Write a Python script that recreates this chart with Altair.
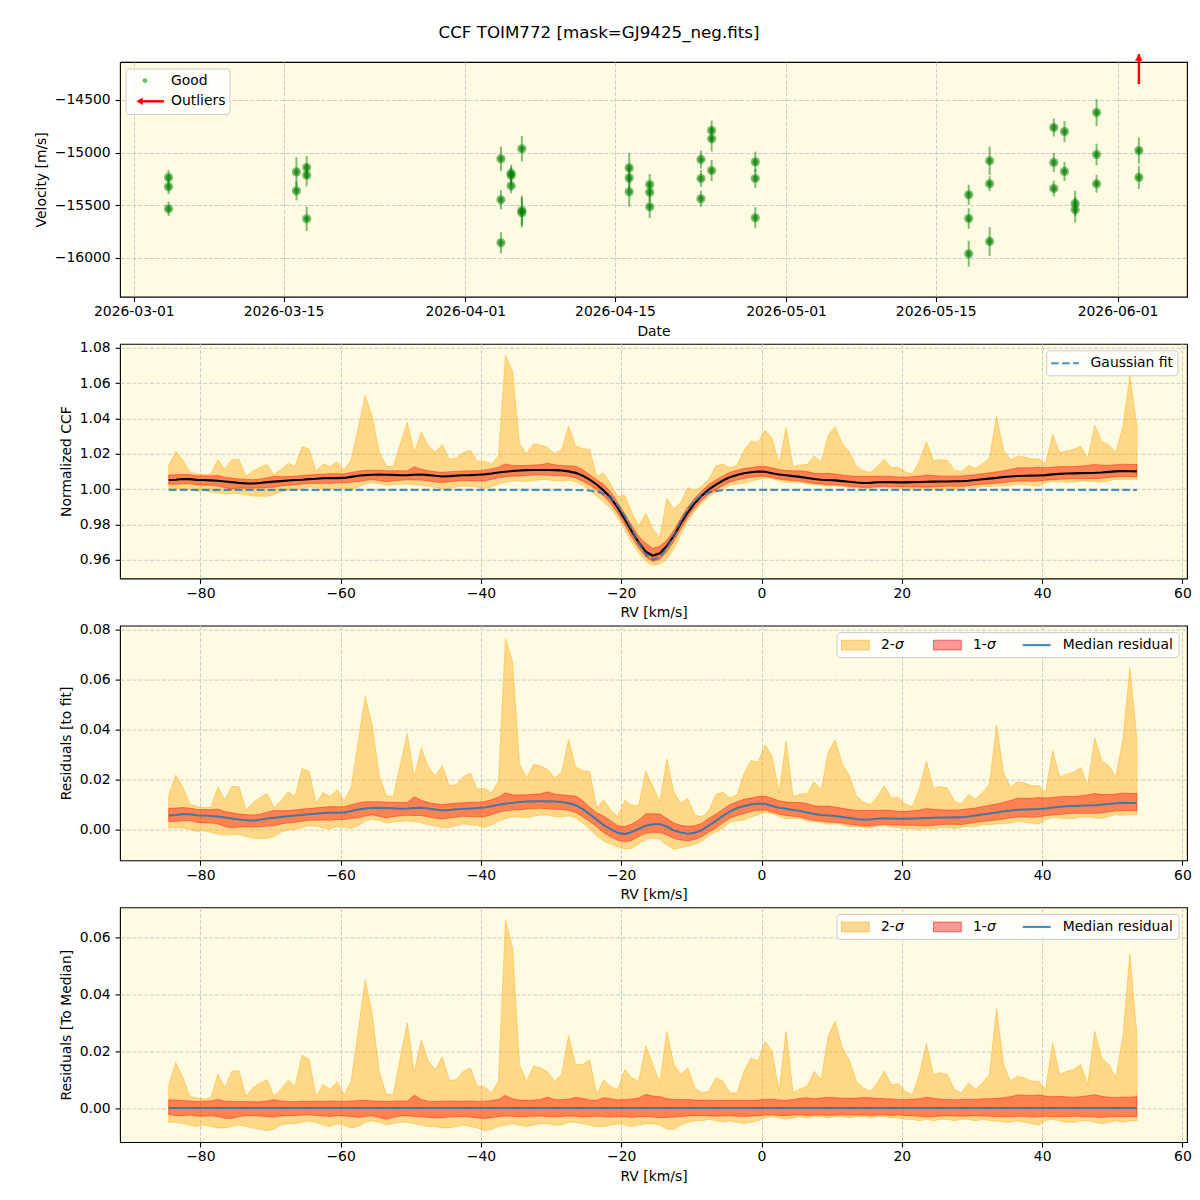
import altair as alt
import numpy as np
import pandas as pd

FONT = "DejaVu Sans"
FS = 13.9
BG = "#fefbe2"
GREEN = "#008000"
ORANGE = "#ffa500"
RED = "#ff0000"
BLUE = "#1f77b4"
W, H = 1067, 234.7

TITLE = "CCF TOIM772 [mask=GJ9425_neg.fits]"

# ---------------------------------------------------------------- RV time series
OBS_DATES = [
    "2026-03-04T06:00:00Z", "2026-03-04T06:00:00Z", "2026-03-04T06:00:00Z",
    "2026-03-16T05:00:00Z", "2026-03-16T05:00:00Z",
    "2026-03-17T04:00:00Z", "2026-03-17T04:00:00Z", "2026-03-17T04:00:00Z",
    "2026-04-04T08:00:00Z", "2026-04-04T08:00:00Z", "2026-04-04T08:00:00Z",
    "2026-04-05T07:00:00Z", "2026-04-05T07:00:00Z", "2026-04-05T07:00:00Z",
    "2026-04-06T07:00:00Z", "2026-04-06T07:00:00Z", "2026-04-06T07:00:00Z",
    "2026-04-16T08:00:00Z", "2026-04-16T08:00:00Z", "2026-04-16T08:00:00Z",
    "2026-04-18T06:00:00Z", "2026-04-18T06:00:00Z", "2026-04-18T06:00:00Z",
    "2026-04-23T01:00:00Z", "2026-04-23T01:00:00Z", "2026-04-23T01:00:00Z",
    "2026-04-24T01:00:00Z", "2026-04-24T01:00:00Z", "2026-04-24T01:00:00Z",
    "2026-04-28T03:00:00Z", "2026-04-28T03:00:00Z", "2026-04-28T03:00:00Z",
    "2026-05-18T02:00:00Z", "2026-05-18T02:00:00Z", "2026-05-18T02:00:00Z",
    "2026-05-20T01:00:00Z", "2026-05-20T01:00:00Z", "2026-05-20T01:00:00Z",
    "2026-05-26T01:00:00Z", "2026-05-26T01:00:00Z", "2026-05-26T01:00:00Z",
    "2026-05-27T01:00:00Z", "2026-05-27T01:00:00Z",
    "2026-05-28T01:00:00Z", "2026-05-28T01:00:00Z",
    "2026-05-30T01:00:00Z", "2026-05-30T01:00:00Z", "2026-05-30T01:00:00Z",
    "2026-06-03T00:00:00Z", "2026-06-03T00:00:00Z",
]
OBS_VEL = [
    -15237, -15326, -15535,
    -15184, -15364,
    -15142, -15215, -15630,
    -15060, -15449, -15858,
    -15196, -15218, -15316,
    -14965, -15551, -15573,
    -15146, -15241, -15373,
    -15304, -15377, -15516,
    -15066, -15247, -15440,
    -14791, -14870, -15171,
    -15089, -15247, -15620,
    -15402, -15627, -15962,
    -15079, -15297, -15845,
    -14763, -15095, -15342,
    -14801, -15180,
    -15484, -15544,
    -14620, -15019, -15297,
    -14981, -15237,
]
OBS_ERR = [
    70, 70, 70,
    140, 90,
    110, 105, 115,
    117, 92, 100,
    80, 80, 70,
    120, 140, 140,
    142, 100, 140,
    100, 90, 107,
    85, 80, 75,
    95, 120, 100,
    98, 92, 100,
    95, 98, 123,
    136, 70, 136,
    85, 90, 75,
    100, 90,
    120, 120,
    127, 103, 85,
    123, 110,
]
# outlier beyond the top of the velocity range, marked with an arrow
OUT_DATES = ["2026-06-03T00:00:00Z"]
OUT_BASE = [-14349]
OUT_TIP = [-14064]

# ---------------------------------------------------------------- CCF statistics
RV = np.arange(-84.5, 54.0, 1.0)  # km/s

GAUSS_FIT = [
    0.9995, 0.9995, 0.9995, 0.9995, 0.9995, 0.9995, 0.9995, 0.9995, 0.9995, 0.9995,
    0.9995, 0.9995, 0.9995, 0.9995, 0.9995, 0.9995, 0.9995, 0.9995, 0.9995, 0.9995,
    0.9995, 0.9995, 0.9995, 0.9995, 0.9995, 0.9995, 0.9995, 0.9995, 0.9995, 0.9995,
    0.9995, 0.9995, 0.9995, 0.9995, 0.9995, 0.9995, 0.9995, 0.9995, 0.9995, 0.9995,
    0.9995, 0.9995, 0.9995, 0.9995, 0.9995, 0.9995, 0.9995, 0.9995, 0.9995, 0.9995,
    0.9995, 0.9995, 0.9995, 0.9995, 0.9995, 0.9995, 0.9995, 0.9995, 0.99946, 0.99938,
    0.99914, 0.99856, 0.99729, 0.99484, 0.99069, 0.98469, 0.97714, 0.96932, 0.96304, 0.96008,
    0.96138, 0.96652, 0.97395, 0.98180, 0.98852, 0.99342, 0.99647, 0.99816, 0.99897, 0.99931,
    0.99944, 0.99948, 0.9995, 0.9995, 0.9995, 0.9995, 0.9995, 0.9995, 0.9995, 0.9995,
    0.9995, 0.9995, 0.9995, 0.9995, 0.9995, 0.9995, 0.9995, 0.9995, 0.9995, 0.9995,
    0.9995, 0.9995, 0.9995, 0.9995, 0.9995, 0.9995, 0.9995, 0.9995, 0.9995, 0.9995,
    0.9995, 0.9995, 0.9995, 0.9995, 0.9995, 0.9995, 0.9995, 0.9995, 0.9995, 0.9995,
    0.9995, 0.9995, 0.9995, 0.9995, 0.9995, 0.9995, 0.9995, 0.9995, 0.9995, 0.9995,
    0.9995, 0.9995, 0.9995, 0.9995, 0.9995, 0.9995, 0.9995, 0.9995, 0.9995,
]
# median CCF minus the Gaussian fit
RESID_MEDIAN = [
    0.0056, 0.0058, 0.0062, 0.0061, 0.0057, 0.0056, 0.0054, 0.0052, 0.0048, 0.0044,
    0.0040, 0.0037, 0.0036, 0.0039, 0.0044, 0.0047, 0.0050, 0.0053, 0.0056, 0.0058,
    0.0061, 0.0063, 0.0066, 0.0067, 0.0067, 0.0068, 0.0074, 0.0080, 0.0084, 0.0086,
    0.0087, 0.0086, 0.0085, 0.0083, 0.0084, 0.0086, 0.0087, 0.0084, 0.0080, 0.0076,
    0.0078, 0.0081, 0.0083, 0.0084, 0.0086, 0.0088, 0.0093, 0.0099, 0.0103, 0.0107,
    0.0110, 0.0112, 0.0113, 0.0113, 0.0113, 0.0112, 0.0110, 0.0105, 0.0097, 0.0082,
    0.0062, 0.0040, 0.0018, 0.0002, -0.0013, -0.0018, -0.0010, 0.0003, 0.0015, 0.0021,
    0.0022, 0.0012, -0.0004, -0.0012, -0.0017, -0.0013, -0.0002, 0.0017, 0.0035, 0.0055,
    0.0073, 0.0085, 0.0094, 0.0100, 0.0104, 0.0103, 0.0094, 0.0087, 0.0083, 0.0078,
    0.0074, 0.0068, 0.0062, 0.0058, 0.0056, 0.0054, 0.0050, 0.0046, 0.0042, 0.0039,
    0.0040, 0.0043, 0.0045, 0.0044, 0.0043, 0.0043, 0.0044, 0.0045, 0.0046, 0.0047,
    0.0048, 0.0048, 0.0049, 0.0049, 0.0052, 0.0056, 0.0060, 0.0064, 0.0068, 0.0073,
    0.0076, 0.0079, 0.0080, 0.0081, 0.0082, 0.0084, 0.0088, 0.0091, 0.0093, 0.0094,
    0.0095, 0.0096, 0.0097, 0.0099, 0.0102, 0.0105, 0.0107, 0.0106, 0.0105,
]
# percentile offsets of the CCFs around their median
SIG1_HI = [
    0.0029, 0.0028, 0.0026, 0.0025, 0.0023, 0.0024, 0.0025, 0.0030, 0.0024, 0.0023,
    0.0022, 0.0023, 0.0022, 0.0022, 0.0025, 0.0029, 0.0025, 0.0023, 0.0022, 0.0024,
    0.0023, 0.0024, 0.0023, 0.0025, 0.0024, 0.0023, 0.0025, 0.0026, 0.0027, 0.0025,
    0.0024, 0.0023, 0.0024, 0.0025, 0.0024, 0.0045, 0.0030, 0.0024, 0.0023, 0.0024,
    0.0025, 0.0024, 0.0024, 0.0025, 0.0023, 0.0024, 0.0026, 0.0030, 0.0044, 0.0032,
    0.0028, 0.0027, 0.0028, 0.0030, 0.0038, 0.0030, 0.0029, 0.0031, 0.0037, 0.0034,
    0.0028, 0.0027, 0.0036, 0.0033, 0.0028, 0.0030, 0.0032, 0.0035, 0.0048, 0.0042,
    0.0040, 0.0033, 0.0030, 0.0029, 0.0030, 0.0028, 0.0027, 0.0028, 0.0027, 0.0026,
    0.0027, 0.0026, 0.0027, 0.0026, 0.0028, 0.0030, 0.0031, 0.0028, 0.0027, 0.0030,
    0.0034, 0.0036, 0.0033, 0.0035, 0.0038, 0.0036, 0.0035, 0.0034, 0.0035, 0.0037,
    0.0036, 0.0034, 0.0033, 0.0032, 0.0030, 0.0029, 0.0031, 0.0033, 0.0038, 0.0034,
    0.0031, 0.0030, 0.0029, 0.0030, 0.0031, 0.0030, 0.0032, 0.0033, 0.0034, 0.0036,
    0.0040, 0.0046, 0.0045, 0.0044, 0.0046, 0.0042, 0.0040, 0.0041, 0.0039, 0.0038,
    0.0040, 0.0043, 0.0047, 0.0041, 0.0038, 0.0037, 0.0039, 0.0038, 0.0040,
]
SIG1_LO = [
    -0.0024, -0.0026, -0.0027, -0.0025, -0.0028, -0.0029, -0.0027, -0.0030, -0.0036, -0.0037,
    -0.0030, -0.0027, -0.0026, -0.0028, -0.0030, -0.0032, -0.0028, -0.0026, -0.0027, -0.0025,
    -0.0024, -0.0026, -0.0028, -0.0030, -0.0027, -0.0028, -0.0030, -0.0033, -0.0030, -0.0027,
    -0.0034, -0.0040, -0.0033, -0.0028, -0.0027, -0.0030, -0.0031, -0.0033, -0.0035, -0.0034,
    -0.0032, -0.0031, -0.0030, -0.0032, -0.0035, -0.0037, -0.0034, -0.0030, -0.0028, -0.0029,
    -0.0031, -0.0030, -0.0029, -0.0028, -0.0030, -0.0031, -0.0030, -0.0028, -0.0029, -0.0031,
    -0.0030, -0.0029, -0.0031, -0.0032, -0.0030, -0.0031, -0.0033, -0.0031, -0.0030, -0.0032,
    -0.0034, -0.0033, -0.0032, -0.0030, -0.0028, -0.0027, -0.0026, -0.0027, -0.0029, -0.0028,
    -0.0027, -0.0029, -0.0030, -0.0028, -0.0027, -0.0025, -0.0024, -0.0026, -0.0027, -0.0025,
    -0.0024, -0.0026, -0.0025, -0.0024, -0.0026, -0.0025, -0.0024, -0.0025, -0.0024, -0.0025,
    -0.0026, -0.0025, -0.0024, -0.0026, -0.0025, -0.0026, -0.0027, -0.0029, -0.0031, -0.0030,
    -0.0028, -0.0027, -0.0028, -0.0029, -0.0028, -0.0027, -0.0028, -0.0029, -0.0030, -0.0031,
    -0.0030, -0.0029, -0.0030, -0.0032, -0.0031, -0.0029, -0.0030, -0.0031, -0.0030, -0.0029,
    -0.0030, -0.0031, -0.0032, -0.0033, -0.0031, -0.0030, -0.0031, -0.0030, -0.0030,
]
SIG2_HI = [
    0.0082, 0.0160, 0.0108, 0.0041, 0.0035, 0.0032, 0.0035, 0.0118, 0.0071, 0.0129,
    0.0132, 0.0041, 0.0071, 0.0088, 0.0100, 0.0041, 0.0065, 0.0098, 0.0076, 0.0186,
    0.0171, 0.0041, 0.0082, 0.0065, 0.0092, 0.0047, 0.0094, 0.0270, 0.0450, 0.0330,
    0.0129, 0.0049, 0.0047, 0.0176, 0.0300, 0.0124, 0.0240, 0.0165, 0.0135, 0.0180,
    0.0096, 0.0100, 0.0129, 0.0141, 0.0076, 0.0076, 0.0053, 0.0094, 0.0660, 0.0565,
    0.0153, 0.0094, 0.0147, 0.0141, 0.0127, 0.0094, 0.0118, 0.0255, 0.0153, 0.0153,
    0.0170, 0.0047, 0.0100, 0.0076, 0.0065, 0.0135, 0.0106, 0.0094, 0.0218, 0.0153,
    0.0088, 0.0270, 0.0153, 0.0118, 0.0141, 0.0071, 0.0053, 0.0059, 0.0106, 0.0094,
    0.0053, 0.0053, 0.0129, 0.0176, 0.0165, 0.0235, 0.0200, 0.0059, 0.0270, 0.0053,
    0.0068, 0.0076, 0.0129, 0.0100, 0.0253, 0.0305, 0.0212, 0.0170, 0.0094, 0.0071,
    0.0059, 0.0088, 0.0130, 0.0082, 0.0085, 0.0059, 0.0047, 0.0118, 0.0228, 0.0118,
    0.0124, 0.0118, 0.0065, 0.0053, 0.0088, 0.0065, 0.0088, 0.0118, 0.0350, 0.0153,
    0.0094, 0.0112, 0.0106, 0.0094, 0.0094, 0.0065, 0.0228, 0.0118, 0.0129, 0.0135,
    0.0153, 0.0082, 0.0270, 0.0176, 0.0153, 0.0106, 0.0250, 0.0540, 0.0260,
]
SIG2_LO = [
    -0.0050, -0.0050, -0.0055, -0.0060, -0.0065, -0.0060, -0.0065, -0.0070, -0.0070, -0.0065,
    -0.0060, -0.0065, -0.0070, -0.0075, -0.0080, -0.0075, -0.0060, -0.0055, -0.0055, -0.0050,
    -0.0045, -0.0050, -0.0060, -0.0065, -0.0055, -0.0060, -0.0070, -0.0065, -0.0050, -0.0045,
    -0.0050, -0.0060, -0.0055, -0.0050, -0.0050, -0.0055, -0.0060, -0.0065, -0.0065, -0.0070,
    -0.0070, -0.0065, -0.0060, -0.0065, -0.0070, -0.0080, -0.0075, -0.0065, -0.0060, -0.0055,
    -0.0060, -0.0065, -0.0060, -0.0055, -0.0055, -0.0060, -0.0060, -0.0050, -0.0050, -0.0055,
    -0.0060, -0.0065, -0.0065, -0.0060, -0.0055, -0.0060, -0.0065, -0.0060, -0.0055, -0.0055,
    -0.0060, -0.0075, -0.0075, -0.0060, -0.0050, -0.0045, -0.0045, -0.0040, -0.0045, -0.0050,
    -0.0045, -0.0050, -0.0055, -0.0050, -0.0045, -0.0035, -0.0030, -0.0035, -0.0040, -0.0035,
    -0.0030, -0.0035, -0.0030, -0.0030, -0.0035, -0.0030, -0.0030, -0.0035, -0.0030, -0.0030,
    -0.0035, -0.0030, -0.0030, -0.0035, -0.0035, -0.0040, -0.0040, -0.0045, -0.0040, -0.0045,
    -0.0040, -0.0040, -0.0045, -0.0040, -0.0040, -0.0045, -0.0040, -0.0045, -0.0045, -0.0050,
    -0.0050, -0.0045, -0.0050, -0.0055, -0.0060, -0.0045, -0.0040, -0.0045, -0.0050, -0.0050,
    -0.0045, -0.0045, -0.0050, -0.0055, -0.0050, -0.0045, -0.0050, -0.0045, -0.0045,
]

RV_DOMAIN = [-91.45, 60.65]
RV_TICKS = [-80, -60, -40, -20, 0, 20, 40, 60]

# ---------------------------------------------------------------- tables
obs = pd.DataFrame({"date": OBS_DATES, "vel": OBS_VEL, "err": OBS_ERR})
obs["lo"] = obs["vel"] - obs["err"]
obs["hi"] = obs["vel"] + obs["err"]
out = pd.DataFrame({"date": OUT_DATES, "base": OUT_BASE, "tip": OUT_TIP})

prof = pd.DataFrame({
    "rv": RV, "fit": GAUSS_FIT, "res": RESID_MEDIAN,
    "s1h": SIG1_HI, "s1l": SIG1_LO, "s2h": SIG2_HI, "s2l": SIG2_LO,
})
prof["ccf"] = prof["fit"] + prof["res"]


def band_table(center):
    return pd.DataFrame({
        "rv": prof["rv"], "fit": prof["fit"], "med": center,
        "lo1": center + prof["s1l"], "hi1": center + prof["s1h"],
        "lo2": center + prof["s2l"], "hi2": center + prof["s2h"],
    })


ccf_tab = band_table(prof["ccf"])
fit_tab = band_table(prof["res"])
med_tab = band_table(prof["ccf"] - prof["ccf"])

ONE = pd.DataFrame({"k": [0]})


# ---------------------------------------------------------------- helpers
def txt(x, y, s, size=FS, align="left", italic=False):
    return alt.Chart(ONE).mark_text(
        align=align, baseline="middle", font=FONT, fontSize=size, color="black",
        fontStyle="italic" if italic else "normal",
    ).encode(x=alt.value(x), y=alt.value(y), text=alt.value(s))


def box(x1, x2, y1, y2):
    return alt.Chart(ONE).mark_rect(
        fill="white", fillOpacity=0.8, stroke="#cccccc", strokeWidth=1, cornerRadius=3
    ).encode(x=alt.value(x1), x2=alt.value(x2), y=alt.value(y1), y2=alt.value(y2))


def patch(x1, x2, y1, y2, color):
    return alt.Chart(ONE).mark_rect(
        fill=color, fillOpacity=0.4, stroke=color, strokeOpacity=0.5, strokeWidth=1
    ).encode(x=alt.value(x1), x2=alt.value(x2), y=alt.value(y1), y2=alt.value(y2))


def hline(x1, x2, y, color, width, opacity=1.0, dash=None):
    kw = dict(color=color, strokeWidth=width, opacity=opacity)
    if dash:
        kw["strokeDash"] = dash
    return alt.Chart(ONE).mark_rule(**kw).encode(
        x=alt.value(x1), x2=alt.value(x2), y=alt.value(y))


def band_legend():
    yc = 19.5
    return [
        box(717, 1059, 7, 32),
        patch(721.5, 749.3, yc - 4.9, yc + 4.9, ORANGE),
        txt(761, yc, "2-"), txt(774.9, yc, "σ", italic=True),
        patch(813.5, 841.3, yc - 4.9, yc + 4.9, RED),
        txt(853, yc, "1-"), txt(866.9, yc, "σ", italic=True),
        hline(902.7, 930.5, yc, BLUE, 2.1, 0.85),
        txt(942.8, yc, "Median residual"),
    ]


def band_panel(tab, ydom, yticks, ytitle, med_color, med_opacity, with_fit, legend):
    base = alt.Chart(tab)
    X = alt.X("rv:Q", scale=alt.Scale(domain=RV_DOMAIN, nice=False, zero=False),
              axis=alt.Axis(values=RV_TICKS, format="d", title="RV [km/s]"))

    def Y(f):
        return alt.Y(f"{f}:Q", scale=alt.Scale(domain=ydom, nice=False, zero=False),
                     axis=alt.Axis(values=yticks, format=".2f", title=ytitle))

    layers = [
        base.mark_area(fill=ORANGE, fillOpacity=0.4, stroke=ORANGE, strokeOpacity=0.4,
                       strokeWidth=1).encode(x=X, y=Y("lo2"), y2="hi2:Q"),
        base.mark_area(fill=RED, fillOpacity=0.4, stroke=RED, strokeOpacity=0.4,
                       strokeWidth=1).encode(x=X, y=Y("lo1"), y2="hi1:Q"),
        base.mark_line(color=med_color, strokeWidth=2.1, opacity=med_opacity).encode(
            x=X, y=Y("med")),
    ]
    if with_fit:
        layers.append(base.mark_line(color=BLUE, strokeWidth=2.1, opacity=0.8,
                                     strokeDash=[7.7, 3.3]).encode(x=X, y=Y("fit")))
    return alt.layer(*layers, *legend).properties(width=W, height=H)


# ---------------------------------------------------------------- panel 1: velocities
def dt(y, m, d, h=0):
    return alt.DateTime(year=y, month=m, date=d, hours=h, utc=True)


XT = alt.X("date:T",
           scale=alt.Scale(type="utc", domain=[dt(2026, 2, 27, 17), dt(2026, 6, 7, 12)]),
           axis=alt.Axis(values=[dt(2026, 3, 1), dt(2026, 3, 15), dt(2026, 4, 1),
                                 dt(2026, 4, 15), dt(2026, 5, 1), dt(2026, 5, 15),
                                 dt(2026, 6, 1)],
                         format="%Y-%m-%d", title="Date"))


def YV(f):
    return alt.Y(f"{f}:Q", scale=alt.Scale(domain=[-16370, -14140], nice=False, zero=False),
                 axis=alt.Axis(values=[-16000, -15500, -15000, -14500], format="d",
                               title="Velocity [m/s]"))


ob = alt.Chart(obs)
errbars = ob.mark_rule(color=GREEN, opacity=0.5, strokeWidth=2).encode(
    x=XT, y=YV("lo"), y2="hi:Q")
dots_outer = ob.mark_circle(color=GREEN, opacity=0.5, size=85).encode(x=XT, y=YV("vel"))
dots_inner = ob.mark_circle(color=GREEN, opacity=0.55, size=32).encode(x=XT, y=YV("vel"))

oc = alt.Chart(out)
out_shaft = oc.mark_rule(color=RED, strokeWidth=2.4).encode(x=XT, y=YV("base"), y2="tip:Q")
out_head = oc.mark_point(shape="triangle-up", filled=True, color=RED, opacity=1,
                         size=60, yOffset=3.5).encode(x=XT, y=YV("tip"))

legend1 = [
    box(6.1, 110, 7, 52.6),
    alt.Chart(ONE).mark_circle(color=GREEN, opacity=0.55, size=24).encode(
        x=alt.value(25), y=alt.value(18.6)),
    txt(51, 18.6, "Good"),
    hline(21, 44, 39.3, RED, 2.4),
    alt.Chart(ONE).mark_point(shape="triangle-left", filled=True, color=RED, opacity=1,
                              size=55).encode(x=alt.value(19.5), y=alt.value(39.3)),
    txt(51, 39.3, "Outliers"),
]

# figure title and an invisible anchor pinning the figure's top-left corner
fig_title = txt(479, -28.7, TITLE, size=16.7, align="center")
anchor = alt.Chart(ONE).mark_rule(strokeOpacity=0, strokeWidth=0.5).encode(
    x=alt.value(-118.8), x2=alt.value(-110), y=alt.value(-60.5), y2=alt.value(-50))

p1 = alt.layer(errbars, dots_outer, dots_inner, out_shaft, out_head, *legend1,
               fig_title, anchor).properties(width=W, height=H)

# ---------------------------------------------------------------- panels 2-4
legend2 = [
    box(926.7, 1058, 7, 32),
    hline(931, 959, 19.5, BLUE, 2.1, 0.8, dash=[7.7, 3.3]),
    txt(970.6, 19.5, "Gaussian fit"),
]
p2 = band_panel(ccf_tab, [0.9493, 1.0823], [0.96, 0.98, 1.00, 1.02, 1.04, 1.06, 1.08],
                "Normalized CCF", "black", 1.0, True, legend2)
p3 = band_panel(fit_tab, [-0.0123, 0.0816], [0.00, 0.02, 0.04, 0.06, 0.08],
                "Residuals [to fit]", BLUE, 0.85, False, band_legend())
p4 = band_panel(med_tab, [-0.012, 0.0706], [0.00, 0.02, 0.04, 0.06],
                "Residuals [To Median]", BLUE, 0.85, False, band_legend())

chart = alt.vconcat(p1, p2, p3, p4, spacing=46.8, bounds="flush").properties(
    padding=0
).configure(
    background="white", font=FONT
).configure_view(
    fill=BG, stroke="black", strokeWidth=1.1
).configure_axis(
    labelFont=FONT, labelFontSize=FS, labelColor="black", labelPadding=4.9,
    labelFlush=False, labelOverlap=False,
    titleFont=FONT, titleFontSize=FS, titleFontWeight="normal", titleColor="black",
    titlePadding=5.6,
    tickColor="black", tickSize=4.9, tickWidth=1.1,
    domain=False,
    grid=True, gridColor="#cccccc", gridDash=[4.1, 1.8], gridWidth=1.0,
).configure_axisX(
    labelPadding=2.9,
)

chart.save("out.html", embed_options={"renderer": "svg", "actions": False})
